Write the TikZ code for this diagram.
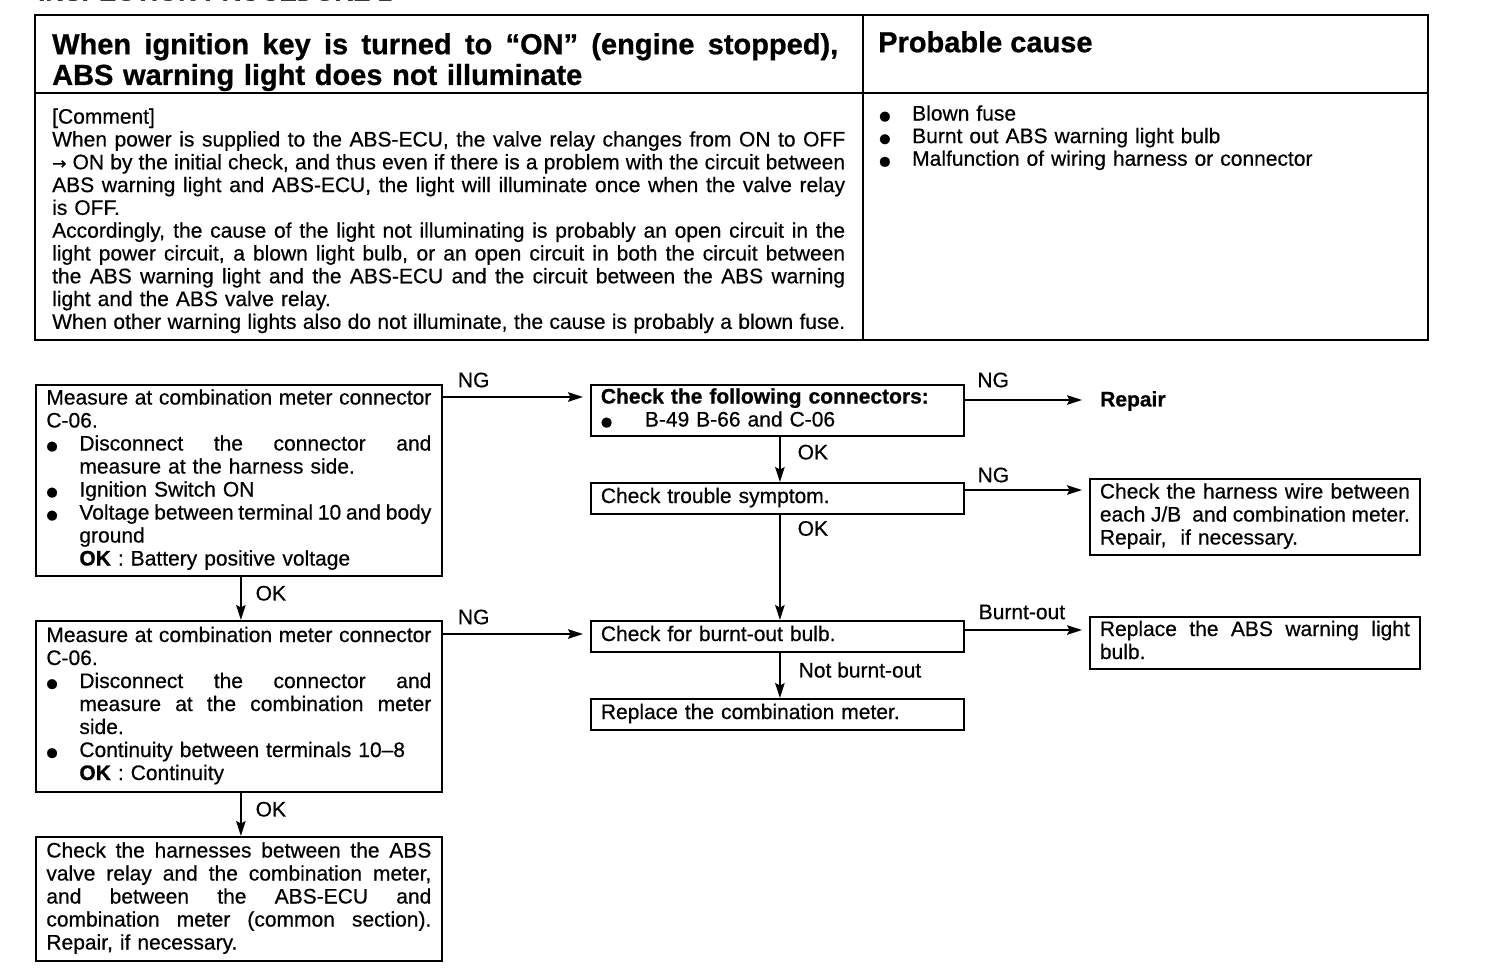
\documentclass[tikz,border=0pt]{standalone}
\usepackage{fontspec}
\setmainfont{Liberation Sans}[UprightFeatures={FakeBold=0.5},BoldFeatures={FakeBold=0.8}]
\newfontfamily\dejavu{DejaVu Sans}[FakeBold=0.5]
\usetikzlibrary{arrows.meta,calc}
\newlength\bulw
\newcommand\sps{\spaceskip=0.278em plus 2em minus 0.12em\xspaceskip=\spaceskip}
\newcommand\mybul{\raisebox{0.5pt}{\dejavu\fontsize{13}{13}\selectfont ●}}
\newcommand\LnJ[1]{\makebox[\linewidth][s]{\sps\strut#1}}
\newcommand\LnL[1]{\strut#1}
\newcommand\LnB[1]{\strut\makebox[\bulw][l]{\mybul}#1}
\newcommand\LnBJ[1]{\strut\makebox[\bulw][l]{\mybul}\makebox[\dimexpr\linewidth-\bulw\relax][s]{\sps#1}}
\newcommand\LnI[1]{\strut\hspace*{\bulw}#1}
\newcommand\LnIJ[1]{\strut\hspace*{\bulw}\makebox[\dimexpr\linewidth-\bulw\relax][s]{\sps#1}}
\begin{document}
\begin{tikzpicture}[x=1pt,y=-1pt,
  every node/.style={font=\fontsize{21}{23}\selectfont},
  tbl/.style={line width=2pt},
  box/.style={draw, line width=1.8pt, anchor=north west, inner xsep=10pt, inner ysep=0pt},
  txt/.style={anchor=north west, inner sep=0pt},
  arr/.style={line width=1.6pt, -{Stealth[length=15pt,width=9.5pt,inset=2.5pt]}},
  lab/.style={inner sep=0pt}]
\useasboundingbox (0,0) rectangle (1504,970);
% cut-off heading
\node[anchor=base west, inner sep=0pt, font=\fontsize{26}{26}\selectfont\bfseries] (cap) at (38,0.5) {INSPECTION PROCEDURE 1};
% table
\draw[tbl] (35,15) rectangle (1428,340);
\draw[tbl] (35,93) -- (1428,93);
\draw[tbl] (863,15) -- (863,340);
\node[txt, text width=786pt, font=\fontsize{29}{29}\selectfont\bfseries] (title) at (52,33)
 {\LnJ{When ignition key is turned to “ON” (engine stopped),}\\\LnL{ABS warning light does not illuminate}};
\node[txt, font=\fontsize{29}{29}\selectfont\bfseries] (pc) at (878,31) {\strut Probable cause};
\node[txt, text width=793pt, font=\fontsize{21}{22.8}\selectfont] (comment) at (52,107.5)
 {\LnL{[Comment]}\\
  \LnJ{When power is supplied to the ABS-ECU, the valve relay changes from ON to OFF}\\
  \LnJ{{\dejavu\fontsize{17}{22.8}\selectfont →} ON by the initial check, and thus even if there is a problem with the circuit between}\\
  \LnJ{ABS warning light and ABS-ECU, the light will illuminate once when the valve relay}\\
  \LnL{is OFF.}\\
  \LnJ{Accordingly, the cause of the light not illuminating is probably an open circuit in the}\\
  \LnJ{light power circuit, a blown light bulb, or an open circuit in both the circuit between}\\
  \LnJ{the ABS warning light and the ABS-ECU and the circuit between the ABS warning}\\
  \LnL{light and the ABS valve relay.}\\
  \LnJ{When other warning lights also do not illuminate, the cause is probably a blown fuse.}};
\node[txt, text width=530pt, font=\fontsize{21}{22.6}\selectfont] (causes) at (879,104.5)
 {\setlength\bulw{33pt}\LnB{Blown fuse}\\\LnB{Burnt out ABS warning light bulb}\\\LnB{Malfunction of wiring harness or connector}};
% flowchart boxes
\node[box, text width=385pt, inner xsep=10.5pt, minimum height=191pt] (A) at (35,384)
 {\setlength\bulw{33pt}%
  \LnJ{Measure at combination meter connector}\\
  \LnL{C-06.}\\
  \LnBJ{Disconnect the connector and}\\
  \LnI{measure at the harness side.}\\
  \LnB{Ignition Switch ON}\\
  \LnBJ{Voltage between terminal 10 and body}\\
  \LnI{ground}\\
  \LnI{\textbf{OK} : Battery positive voltage}};
\node[box, text width=385pt, inner xsep=10.5pt, minimum height=171pt] (H) at (35,620)
 {\setlength\bulw{33pt}%
  \LnJ{Measure at combination meter connector}\\
  \LnL{C-06.}\\
  \LnBJ{Disconnect the connector and}\\
  \LnIJ{measure at the combination meter}\\
  \LnI{side.}\\
  \LnB{Continuity between terminals 10–8}\\
  \LnI{\textbf{OK} : Continuity}};
\node[box, text width=385pt, inner xsep=10.5pt, minimum height=124pt] (I) at (35,836)
 {\LnJ{Check the harnesses between the ABS}\\
  \LnJ{valve relay and the combination meter,}\\
  \LnJ{and between the ABS-ECU and}\\
  \LnJ{combination meter (common section).}\\
  \LnL{Repair, if necessary.}};
\node[box, text width=353pt, minimum height=51pt] (B) at (590,384)
 {\setlength\bulw{44pt}%
  \LnL{\textbf{Check the following connectors:}}\\
  \LnB{B-49 B-66 and C-06}};
\node[box, text width=353pt, minimum height=31pt] (C) at (590,482) {\LnL{Check trouble symptom.}};
\node[box, text width=353pt, minimum height=31pt] (E) at (590,620) {\LnL{Check for burnt-out bulb.}};
\node[box, text width=353pt, minimum height=31pt] (G) at (590,698) {\LnL{Replace the combination meter.}};
\node[box, text width=310pt, minimum height=76pt] (D) at (1089,478)
 {\LnJ{Check the harness wire between}\\
  \LnJ{each J/B\ \ and combination meter.}\\
  \LnL{Repair,\ \ if necessary.}};
\node[box, text width=310pt, minimum height=52pt] (F) at (1089,616)
 {\LnJ{Replace the ABS warning light}\\
  \LnL{bulb.}};
\node[anchor=west, inner sep=0pt, font=\fontsize{21}{23}\selectfont\bfseries] (rep) at (1100,401) {Repair};
% connectors
\coordinate (a1) at ([yshift=-13pt]A.north east);
\draw[arr, shorten >=7pt] (a1) -- node[lab, pos=.21, yshift=17pt] {NG} (a1 -| B.west);
\coordinate (b1) at ([yshift=-16pt]B.north east);
\draw[arr, shorten >=18pt] (b1) -- node[lab, pos=.21, yshift=20pt] {NG} (b1 -| rep.west);
\draw[arr] ([xshift=2.5pt]B.south) -- node[lab, pos=.34, anchor=west, xshift=17pt] {OK} ([xshift=2.5pt]C.north);
\coordinate (c1) at ([yshift=-8pt]C.north east);
\draw[arr, shorten >=7pt] (c1) -- node[lab, pos=.23, yshift=15pt] {NG} (c1 -| D.west);
\draw[arr] ([xshift=2.5pt]C.south) -- node[lab, pos=.13, anchor=west, xshift=17pt] {OK} ([xshift=2.5pt]E.north);
\coordinate (e1) at ([yshift=-10pt]E.north east);
\draw[arr, shorten >=7pt] (e1) -- node[lab, pos=.46, yshift=18pt] {Burnt-out} (e1 -| F.west);
\draw[arr] ([xshift=2.5pt]E.south) -- node[lab, pos=.38, anchor=west, xshift=18pt] {Not burnt-out} ([xshift=2.5pt]G.north);
\draw[arr] ([xshift=2pt]A.south) -- node[lab, pos=.38, anchor=west, xshift=14pt] {OK} ([xshift=2pt]H.north);
\coordinate (h1) at ([yshift=-14pt]H.north east);
\draw[arr, shorten >=7pt] (h1) -- node[lab, pos=.21, yshift=17pt] {NG} (h1 -| E.west);
\draw[arr] ([xshift=2pt]H.south) -- node[lab, pos=.38, anchor=west, xshift=14pt] {OK} ([xshift=2pt]I.north);
\end{tikzpicture}
\end{document}
